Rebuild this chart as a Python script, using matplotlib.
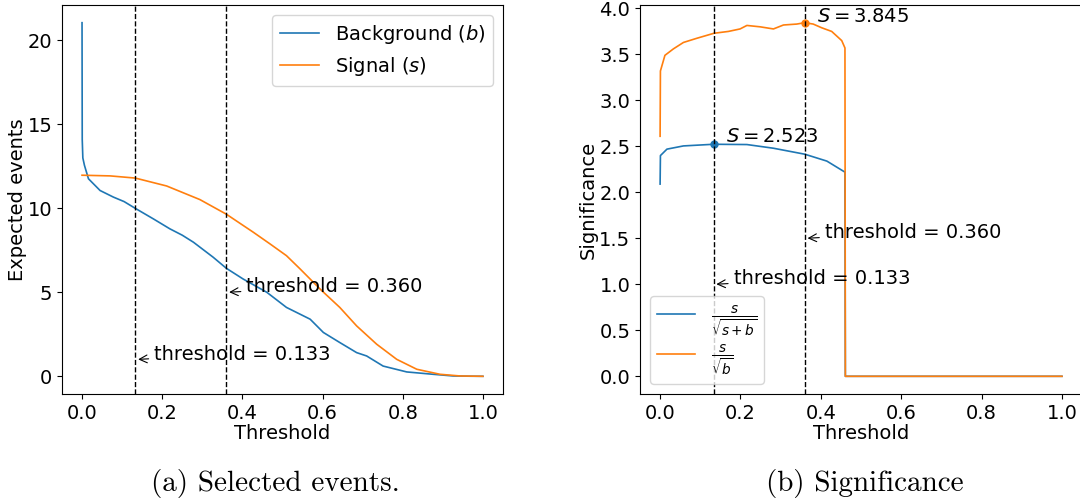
import matplotlib
matplotlib.use("Agg")
import matplotlib.pyplot as plt

# ---- data ----
thr_b = [0.0, 0.0005, 0.002, 0.006, 0.016, 0.045, 0.078, 0.105, 0.132, 0.178, 0.219,
         0.25, 0.278, 0.327, 0.36, 0.402, 0.461, 0.51, 0.569, 0.602, 0.643, 0.685,
         0.71, 0.751, 0.81, 0.876, 0.926, 0.97, 1.0]
bkg = [21.05, 14.1, 13.0, 12.56, 11.76, 11.06, 10.67, 10.4, 10.01, 9.37, 8.78,
       8.4, 7.98, 7.09, 6.43, 5.79, 5.0, 4.10, 3.40, 2.61, 2.01, 1.41,
       1.21, 0.61, 0.26, 0.12, 0.02, 0.005, 0.0]

thr_s = [0.0, 0.07, 0.133, 0.211, 0.294, 0.36, 0.427, 0.469, 0.51, 0.544, 0.594,
         0.643, 0.685, 0.735, 0.785, 0.835, 0.893, 0.943, 1.0]
sig = [11.97, 11.93, 11.8, 11.33, 10.52, 9.65, 8.58, 7.88, 7.18, 6.39, 5.19,
       4.10, 3.0, 1.91, 1.01, 0.42, 0.12, 0.02, 0.0]

thr_z1 = [0.0, 0.0008, 0.017, 0.058, 0.133, 0.216, 0.282, 0.36, 0.415, 0.46, 0.461, 1.0]
z_ssb = [2.09, 2.40, 2.47, 2.505, 2.523, 2.52, 2.48, 2.415, 2.34, 2.22, 0.0, 0.0]

thr_z2 = [0.0, 0.0008, 0.012, 0.033, 0.058, 0.091, 0.134, 0.17, 0.199, 0.216, 0.249,
          0.282, 0.307, 0.34, 0.36, 0.381, 0.402, 0.427, 0.452, 0.46, 0.461, 1.0]
z_sb = [2.61, 3.32, 3.49, 3.56, 3.63, 3.675, 3.73, 3.75, 3.777, 3.815, 3.80,
        3.777, 3.82, 3.83, 3.845, 3.83, 3.79, 3.75, 3.65, 3.57, 0.0, 0.0]

thresholds = [0.133, 0.360]
best_ssb = (0.133, 2.523)
best_sb = (0.360, 3.845)

blue = "#1f77b4"
orange = "#ff7f0e"

fig = plt.figure(figsize=(10.8, 5.01), dpi=100)
ax1 = fig.add_axes([0.0574, 0.2136, 0.4083, 0.7764])
ax2 = fig.add_axes([0.5926, 0.2136, 0.4093, 0.7764])

fs = 14
# ---- left ----
ax1.plot(thr_b, bkg, color=blue, lw=1.2, label="Background ($b$)")
ax1.plot(thr_s, sig, color=orange, lw=1.2, label="Signal ($s$)")
for t in thresholds:
    ax1.axvline(t, color="black", ls="--", lw=1.0)
ax1.annotate("threshold = 0.133", xy=(0.133, 1.0), xytext=(0.18, 1.0), fontsize=fs,
             arrowprops=dict(arrowstyle="->", color="black", lw=0.8))
ax1.annotate("threshold = 0.360", xy=(0.36, 5.0), xytext=(0.41, 5.0), fontsize=fs,
             arrowprops=dict(arrowstyle="->", color="black", lw=0.8))
ax1.set_xlabel("Threshold", fontsize=fs, labelpad=1)
ax1.set_ylabel("Expected events", fontsize=fs, labelpad=0)
ax1.legend(loc="upper right", fontsize=fs)
ax1.tick_params(labelsize=fs)
ax1.set_xticks([0.0, 0.2, 0.4, 0.6, 0.8, 1.0])
ax1.set_yticks([0, 5, 10, 15, 20])

# ---- right ----
ax2.plot(thr_z1, z_ssb, color=blue, lw=1.2, label=r"$\frac{s}{\sqrt{s+b}}$")
ax2.plot(thr_z2, z_sb, color=orange, lw=1.2, label=r"$\frac{s}{\sqrt{b}}$")
ax2.plot([best_ssb[0]], [best_ssb[1]], "o", color=blue, ms=5)
ax2.plot([best_sb[0]], [best_sb[1]], "o", color=orange, ms=5)
for t in thresholds:
    ax2.axvline(t, color="black", ls="--", lw=1.0)
ax2.annotate("threshold = 0.133", xy=(0.133, 1.0), xytext=(0.183, 1.0), fontsize=fs,
             arrowprops=dict(arrowstyle="->", color="black", lw=0.8))
ax2.annotate("threshold = 0.360", xy=(0.36, 1.5), xytext=(0.41, 1.5), fontsize=fs,
             arrowprops=dict(arrowstyle="->", color="black", lw=0.8))
ax2.text(best_ssb[0] + 0.03, best_ssb[1] + 0.03, "$S = %.3f$" % best_ssb[1], fontsize=fs)
ax2.text(best_sb[0] + 0.03, best_sb[1] + 0.01, "$S = %.3f$" % best_sb[1], fontsize=fs)
ax2.set_xlabel("Threshold", fontsize=fs, labelpad=1)
ax2.set_ylabel("Significance", fontsize=fs, labelpad=1)
ax2.legend(loc="lower left", fontsize=fs, labelspacing=0.25, borderpad=0.35)
ax2.tick_params(labelsize=fs)
ax2.set_xticks([0.0, 0.2, 0.4, 0.6, 0.8, 1.0])

fig.text(275 / 1080, 1 - 483 / 501, "(a) Selected events.", family="cmr10", fontsize=21,
         ha="center", va="center")
fig.text(865 / 1080, 1 - 483 / 501, "(b) Significance", family="cmr10", fontsize=21,
         ha="center", va="center")

fig.savefig("out.png", dpi=100)
